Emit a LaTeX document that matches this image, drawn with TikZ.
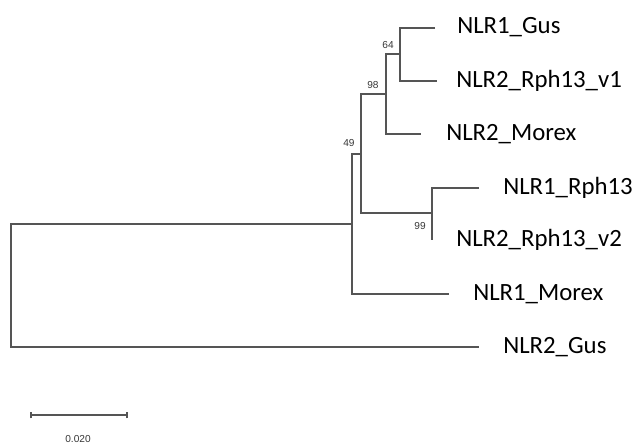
\documentclass[tikz,border=0pt]{standalone}
\usepackage{fontspec}
\setmainfont{Carlito}
\newfontfamily\bsfont{Liberation Sans}
\definecolor{treegray}{RGB}{85,85,85}
\definecolor{bootgray}{RGB}{55,55,55}
\begin{document}
\begin{tikzpicture}[x=0.75pt,y=-0.75pt,
  branch/.style={draw=treegray, line width=1.1pt},
  taxon/.style={anchor=base west, inner sep=0pt, font=\fontsize{18.6}{20}\selectfont},
  boot/.style={font=\bsfont\fontsize{7.6}{8}\selectfont, text=bootgray, inner sep=0pt},
  scalebar/.style={draw=treegray, line width=1.1pt}]
\useasboundingbox (0,0) rectangle (633,444);
% internal nodes
\coordinate (nR) at (11,285);
\coordinate (nA) at (352,224);
\coordinate (nB) at (361,154);
\coordinate (nC) at (386,94);
\coordinate (nE) at (400,54);
\coordinate (nD) at (432,213);
% leaf tips
\coordinate (lGus1) at (435,28);
\coordinate (lv1) at (437,81);
\coordinate (lMorex2) at (421,134);
\coordinate (lRph1) at (479,188);
\coordinate (lv2) at (432,240);
\coordinate (lMorex1) at (449,294);
\coordinate (lGus2) at (479,347);
% branches
\draw[branch] (nA) -| (nR) |- (lGus2);
\draw[branch] (nB) -| (nA) |- (lMorex1);
\draw[branch] (nC) -| (nB) |- (nD);
\draw[branch] (nE) -| (nC) |- (lMorex2);
\draw[branch] (lGus1) -| (nE) |- (lv1);
\draw[branch] (lRph1) -| (nD) -- (lv2);
% taxa
\node[taxon] (tGus1) at (457,33.5) {NLR1\_Gus};
\node[taxon] (tv1) at (456,87) {NLR2\_Rph13\_v1};
\node[taxon] (tMorex2) at (446,140) {NLR2\_Morex};
\node[taxon] (tRph1) at (503,194) {NLR1\_Rph13};
\node[taxon] (tv2) at (456,246) {NLR2\_Rph13\_v2};
\node[taxon] (tMorex1) at (473,300) {NLR1\_Morex};
\node[taxon] (tGus2) at (503,353) {NLR2\_Gus};
% bootstrap values
\node[boot] (b64) at (388,45) {64};
\node[boot] (b98) at (373,85) {98};
\node[boot] (b49) at (349,143) {49};
\node[boot] (b99) at (420,226) {99};
% scale bar
\coordinate (sL) at (31,415);
\coordinate (sR) at (127,415);
\draw[scalebar] (sL) -- (sR);
\draw[scalebar] ([yshift=-2.6pt]sL) -- ([yshift=2.6pt]sL);
\draw[scalebar] ([yshift=-2.6pt]sR) -- ([yshift=2.6pt]sR);
\node[boot] (sLab) at (78,439) {0.020};
\end{tikzpicture}
\end{document}
